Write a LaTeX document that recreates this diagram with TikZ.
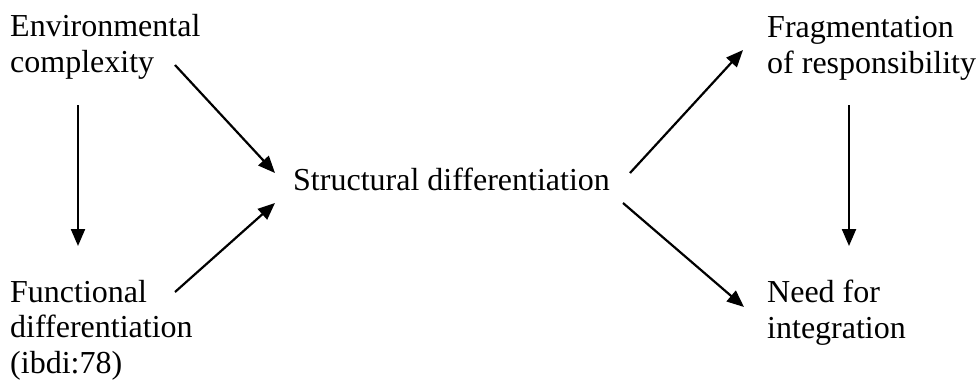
\documentclass[tikz,border=0pt]{standalone}
\usepackage{fontspec}
\setmainfont{Liberation Serif}
\usetikzlibrary{arrows.meta}
\begin{document}
\begin{tikzpicture}[x=1pt,y=-1pt,
  term/.style={anchor=base west, inner sep=0pt, align=left,
               font=\fontsize{32}{35.5}\selectfont},
  link/.style={line width=2.2pt, -{Triangle[length=17pt,width=14pt]}}]
\useasboundingbox (0,0) rectangle (976,381);

% concepts (each anchored at the baseline of its last line)
\node[term] (env)    at (10,72)   {Environmental\\complexity};
\node[term] (func)   at (10,373)  {Functional\\differentiation\\(ibdi:78)};
\node[term] (struct) at (293,190) {Structural differentiation};
\node[term] (frag)   at (767,73)  {Fragmentation\\of responsibility};
\node[term] (need)   at (767,338) {Need for\\integration};

% causal links
\draw[link] ([shift={(68,33)}]env.base west)     -- ([shift={(68,-127)}]func.base west);
\draw[link] ([shift={(165,-7)}]env.base west)    -- ([shift={(-18,-17)}]struct.base west);
\draw[link] ([shift={(165,-81)}]func.base west)  -- ([shift={(-18,13)}]struct.base west);
\draw[link] ([shift={(337,-17)}]struct.base west) -- ([shift={(-24,-23)}]frag.base west);
\draw[link] ([shift={(330,13)}]struct.base west)  -- ([shift={(-23,-31)}]need.base west);
\draw[link] ([shift={(82,32)}]frag.base west)    -- ([shift={(82,-92)}]need.base west);
\end{tikzpicture}
\end{document}
